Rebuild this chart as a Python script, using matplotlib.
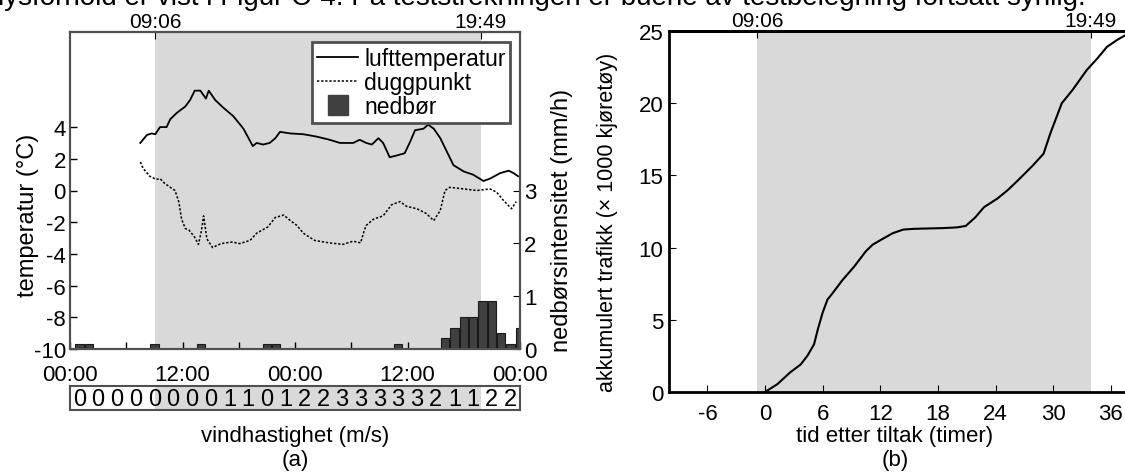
import matplotlib
matplotlib.use("Agg")
import matplotlib.pyplot as plt
from matplotlib.lines import Line2D

plt.rcParams['font.family'] = ['Liberation Sans', 'DejaVu Sans']
plt.rcParams['font.size'] = 16
plt.rcParams['axes.unicode_minus'] = False

# ---- data, panel (a) ----
temp_hours = [7.5, 8.2, 8.7, 9.1, 9.6, 10.3, 10.7, 11.4, 12.3, 12.8, 13.3, 13.9, 14.5, 14.8,
              15.5, 16.4, 17.4, 18.5, 19.5, 19.9, 20.6, 21.3, 21.9, 22.4, 23.5, 24.9, 26.3,
              27.7, 28.8, 30.2, 30.9, 31.6, 32.2, 32.9, 33.4, 34.1, 34.8, 35.7, 36.3, 36.8,
              37.7, 38.2, 38.8, 39.5, 40.2, 40.9, 42.0, 43.0, 44.1, 44.8, 45.9, 46.8, 47.3, 47.8]
temp = [3.0, 3.5, 3.6, 3.55, 4.0, 4.0, 4.5, 4.9, 5.3, 5.7, 6.3, 6.3, 5.8, 6.3,
        5.7, 5.2, 4.7, 3.9, 2.8, 3.0, 2.9, 3.0, 3.3, 3.7, 3.6, 3.55, 3.4,
        3.2, 3.0, 3.0, 3.2, 3.0, 2.9, 3.3, 3.0, 2.1, 2.2, 2.35, 3.1, 3.8,
        3.9, 4.15, 3.9, 3.3, 2.45, 1.6, 1.2, 1.0, 0.6, 0.75, 1.1, 1.25, 1.1, 0.9]

dew_hours = [7.5, 7.8, 8.5, 9.2, 9.6, 10.1, 10.7, 11.2, 11.6, 11.9, 12.3, 12.7, 13.3, 13.7,
             14.0, 14.25, 14.6, 15.2, 16.1, 17.3, 18.1, 19.2, 19.9, 21.1, 21.9, 22.8, 23.5,
             24.2, 24.9, 26.1, 27.6, 29.1, 30.2, 31.0, 31.4, 31.6, 32.4, 33.4, 34.3, 35.2,
             35.9, 37.0, 38.0, 38.8, 39.5, 40.0, 40.5, 42.0, 43.4, 44.8, 45.5, 46.2, 47.1, 47.6]
dew = [1.8, 1.4, 0.9, 0.7, 0.75, 0.45, 0.2, 0.0, -0.7, -1.8, -2.4, -2.5, -2.95, -3.4,
       -2.6, -1.6, -3.05, -3.6, -3.35, -3.25, -3.35, -3.15, -2.7, -2.3, -1.7, -1.55, -1.9,
       -2.2, -2.7, -3.15, -3.3, -3.4, -3.2, -3.3, -2.5, -2.2, -1.8, -1.6, -0.9, -0.7,
       -1.0, -1.15, -1.45, -1.9, -1.25, 0.0, 0.2, 0.1, 0.0, 0.1, -0.1, -0.6, -1.15, -0.7]

precip_hours = [1, 2, 9, 12, 13, 14, 15, 19, 21, 22, 23, 35,
                40, 41, 42, 43, 44, 45, 46, 47, 48]
precip = [0.1, 0.1, 0.1, 0, 0, 0.1, 0, 0, 0.1, 0.1, 0, 0.1,
          0.2, 0.4, 0.6, 0.6, 0.9, 0.9, 0.3, 0.1, 0.4]

wind = [0, 0, 0, 0, 0, 0, 0, 0, 1, 1, 0, 1, 2, 2, 3, 3, 3, 3, 3, 2, 1, 1, 2, 2]

hour_ticks = [0, 6, 12, 18, 24, 30, 36, 42, 48]
hour_labels = ['00:00', '', '12:00', '', '00:00', '', '12:00', '', '00:00']
start_a, end_a = 9.1, 43.82   # 09:06 .. 19:49 next day

# ---- data, panel (b) ----
traffic_hours = [0, 1.3, 2.6, 3.7, 4.4, 5.1, 5.5, 6.0, 6.5, 7.1, 8.0, 9.3, 10.5, 11.2,
                 12.1, 13.3, 14.4, 15.5, 18.5, 20.0, 20.9, 21.9, 22.8, 24.2, 25.3, 26.4,
                 27.9, 29.0, 29.7, 30.9, 32.0, 33.5, 34.6, 35.6, 36.7, 37.5]
traffic = [0, 0.55, 1.35, 1.9, 2.5, 3.3, 4.35, 5.5, 6.4, 6.9, 7.7, 8.7, 9.75, 10.2,
           10.55, 11.0, 11.25, 11.3, 11.35, 11.4, 11.5, 12.1, 12.8, 13.4, 14.0, 14.7,
           15.7, 16.5, 17.9, 20.0, 20.9, 22.3, 23.1, 23.9, 24.4, 24.7]
start_b, end_b = -0.83, 33.89

top_text = "lysforhold er vist i Figur C-4. På teststrekningen er buene av testbelegning fortsatt synlig."

shade = '#d9d9d9'
box = '#505050'

fig = plt.figure(figsize=(11.25, 4.77), dpi=100)
W, H = 1125, 477

def rect(x0, y0, x1, y1):
    return [x0 / W, 1 - y1 / H, (x1 - x0) / W, (y1 - y0) / H]

def px_text(x, y, s, **kw):
    fig.text(x / W, 1 - y / H, s, ha='center', va='center', **kw)

# running text of the page, cut at the top edge
fig.text(-0.002, 1 - 5 / H, top_text, fontsize=20, va='baseline', ha='left')

# ---------- panel (a) ----------
ax = fig.add_axes(rect(70, 33, 520, 350))
ax.axvspan(start_a, end_a, color=shade, lw=0, zorder=0)
l1, = ax.plot(temp_hours, temp, color='black', lw=1.3)
l2, = ax.plot(dew_hours, dew, color='black', lw=1.1, ls=(0, (1.5, 1.2)))
ax.set_xlim(0, 48)
ax.set_ylim(-10, 10)
ax.set_yticks(range(-10, 5, 2))
ax.set_xticks(hour_ticks, hour_labels)
ax.tick_params(direction='in', length=5, width=1, pad=3, labelsize=16)
ax.tick_params(axis='x', pad=11)
for s in ax.spines.values():
    s.set_color(box)
    s.set_linewidth(1.5)

top_a = ax.secondary_xaxis('top')
top_a.set_xticks([start_a, end_a], ['09:06', '19:49'])
top_a.tick_params(direction='in', length=5, pad=1, labelsize=15)
top_a.spines['top'].set_color(box)
top_a.spines['top'].set_linewidth(1.5)

ax2 = ax.twinx()
ax2.bar(precip_hours, precip, width=0.9, color='#404040', edgecolor='#1a1a1a', lw=0.8)
ax2.set_ylim(0, 6)
ax2.set_yticks([0, 1, 2, 3])
ax2.tick_params(direction='in', length=5, pad=3, labelsize=16)
for s in ax2.spines.values():
    s.set_color(box)
    s.set_linewidth(1.5)

px_text(28, 215, 'temperatur (°C)', rotation=90, fontsize=17)
px_text(562, 220, 'nedbørsintensitet (mm/h)', rotation=90, fontsize=17)

h3 = Line2D([], [], ls='none', marker='s', markersize=15, color='#404040')
leg = ax2.legend([l1, l2, h3], ['lufttemperatur', 'duggpunkt', 'nedbør'],
                 loc='upper right', bbox_to_anchor=(0.978, 0.968), borderaxespad=0,
                 fontsize=16.5, handlelength=1.8, handletextpad=0.25, labelspacing=0.05,
                 borderpad=0.2, fancybox=False, framealpha=1)
leg.get_frame().set_edgecolor(box)
leg.get_frame().set_linewidth(2)

# wind speed strip
axw = fig.add_axes(rect(70, 387, 520, 411))
axw.set_xlim(0, 48)
axw.set_ylim(0, 1)
axw.axvspan(start_a, end_a, color=shade, lw=0)
for i, v in enumerate(wind):
    axw.text(2 * i + 1, 0.45, str(v), ha='center', va='center', fontsize=17)
axw.set_xticks([])
axw.set_yticks([])
for s in axw.spines.values():
    s.set_color(box)
    s.set_linewidth(1.5)

px_text(295, 437, 'vindhastighet (m/s)', fontsize=16)
px_text(295, 461, '(a)', fontsize=16)

# ---------- panel (b) ----------
bx = fig.add_axes(rect(669, 32, 1130, 393))
bx.axvspan(start_b, end_b, color=shade, lw=0, zorder=0)
bx.plot(traffic_hours, traffic, color='black', lw=1.5)
bx.set_xlim(-10, 38)
bx.set_ylim(0, 25)
bx.set_xticks(range(-6, 37, 6))
bx.set_yticks(range(0, 26, 5))
bx.tick_params(direction='in', length=5, pad=8, labelsize=16)
bx.tick_params(axis='y', pad=4)
bx.spines['right'].set_visible(False)
for k in ['left', 'top', 'bottom']:
    bx.spines[k].set_linewidth(2)
top_b = bx.secondary_xaxis('top')
top_b.set_xticks([start_b, end_b], ['09:06', '19:49'])
top_b.tick_params(direction='in', length=5, pad=1, labelsize=15)
top_b.spines['top'].set_linewidth(2)

px_text(607, 222, 'akkumulert trafikk (× 1000 kjøretøy)', rotation=90, fontsize=15.5)
px_text(895, 437, 'tid etter tiltak (timer)', fontsize=16)
px_text(895, 461, '(b)', fontsize=16)

fig.savefig('out.png', dpi=100)
